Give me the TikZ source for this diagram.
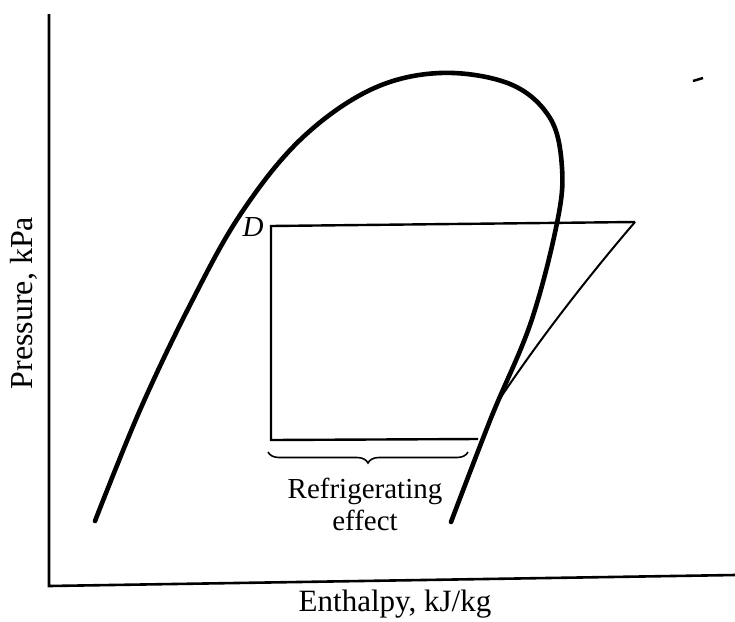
\documentclass[tikz,border=0pt]{standalone}
\usepackage{fontspec}
\setmainfont{Liberation Serif}
\usepackage{tikz}
\usetikzlibrary{decorations.pathreplacing}

\begin{document}
\begin{tikzpicture}[
  x=1pt, y=-1pt,
  axis/.style={line width=2.6pt},
  dome/.style={line width=4.6pt, line cap=round},
  cyc/.style={line width=2.4pt, line join=miter},
  comp/.style={line width=2pt},
  lbl/.style={inner sep=0pt, align=center}
]
\useasboundingbox (0,0) rectangle (735,621);

% axes
\coordinate (top) at (49,14);
\coordinate (orig) at (49,586);
\coordinate (xend) at (735,575);
\draw[axis] (top) -- (orig) -- (xend);

% saturation dome
\draw[dome] plot[smooth, tension=0.6] coordinates {
  (95,521) (140,410) (190,305) (240,215) (300,140) (370,90) (440,73)
  (510,84) (550,118) (562,168) (557,223) (531,322) (491,418) (451,522)};

% refrigeration cycle
\coordinate (D) at (271,226);
\coordinate (low) at (271,440);
\coordinate (evap) at (478,439);
\coordinate (tip) at (635,222);
\coordinate (merge) at (497,403);
\draw[cyc] (evap) -- (low) -- (D) -- (tip);
\draw[comp] (tip) .. controls (592,272) and (540,338) .. (merge);

\node[lbl, font=\fontsize{29}{33}\selectfont\itshape] (dlabel) at (253,227) {D};

% refrigerating effect
\draw[line width=1.6pt, decorate, decoration={brace, amplitude=11pt}]
  (468,452) -- (268,452);
\node[lbl, font=\fontsize{29}{32}\selectfont] (effect) at (365,504) {Refrigerating\\effect};

% axis labels
\node[lbl, font=\fontsize{31}{34}\selectfont] (xlabel) at (395,604) {Enthalpy, kJ/kg};
\node[lbl, font=\fontsize{32}{34}\selectfont, rotate=90] (ylabel) at (24,303) {Pressure, kPa};

% speck
\draw[line width=2.5pt] (693,81) -- (703,78);
\end{tikzpicture}
\end{document}
